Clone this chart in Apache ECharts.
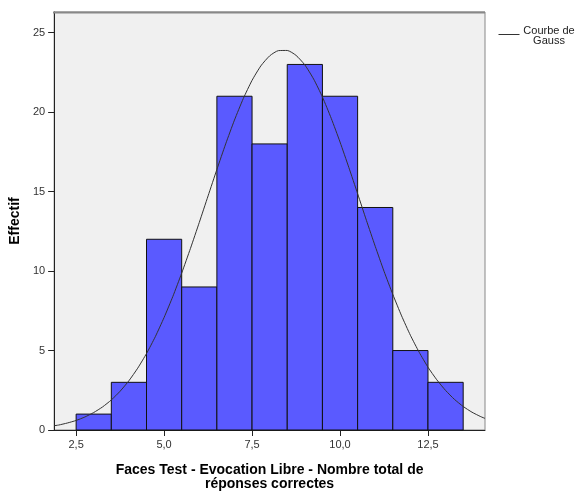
<!DOCTYPE html>
<html>
<head>
<meta charset="utf-8">
<script src="https://cdn.jsdelivr.net/npm/echarts@6/dist/echarts.min.js"></script>
<style>html,body{margin:0;padding:0;background:#fff;}#c{width:575px;height:496px;}</style>
</head>
<body>
<div id="c"></div>
<script>
// Histogram bins (lower edge, upper edge) and counts
var binLower = [2.5, 3.5, 4.5, 5.5, 6.5, 7.5, 8.5, 9.5, 10.5, 11.5, 12.5];
var binUpper = [3.5, 4.5, 5.5, 6.5, 7.5, 8.5, 9.5, 10.5, 11.5, 12.5, 13.5];
var counts   = [1, 3, 12, 9, 21, 18, 23, 21, 14, 5, 3];

// Gauss curve points
var curveX = [1.875, 2.0, 2.25, 2.5, 2.75, 3.0, 3.25, 3.5, 3.75, 4.0, 4.25, 4.5, 4.75, 5.0, 5.25, 5.5, 5.75, 6.0, 6.25, 6.5, 6.75, 7.0, 7.25, 7.5, 7.75, 8.0, 8.25, 8.5, 8.75, 9.0, 9.25, 9.5, 9.75, 10.0, 10.25, 10.5, 10.75, 11.0, 11.25, 11.5, 11.75, 12.0, 12.25, 12.5, 12.75, 13.0, 13.25, 13.5, 13.75, 14.0, 14.12];
var curveY = [0.27, 0.31, 0.44, 0.60, 0.82, 1.10, 1.45, 1.89, 2.44, 3.10, 3.89, 4.81, 5.87, 7.08, 8.41, 9.87, 11.43, 13.06, 14.73, 16.39, 18.00, 19.50, 20.85, 22.00, 22.91, 23.54, 23.87, 23.88, 23.57, 22.97, 22.08, 20.95, 19.61, 18.12, 16.52, 14.87, 13.19, 11.56, 9.99, 8.53, 7.18, 5.96, 4.89, 3.95, 3.16, 2.49, 1.93, 1.48, 1.12, 0.84, 0.73];

// Axis tick labels
var xTicks = [2.5, 5.0, 7.5, 10.0, 12.5];
var yTicks = [0, 5, 10, 15, 20, 25];

// Legend text
var legendLines = ['Courbe de', 'Gauss'];

var barData = binLower.map(function (l, i) { return [l, binUpper[i], counts[i]]; });
var curveData = curveX.map(function (x, i) { return [x, curveY[i]]; });

var chart = echarts.init(document.getElementById('c'), null, {renderer: 'canvas'});
var fontFam = '"Liberation Sans", Arial, sans-serif';

chart.setOption({
  animation: false,
  backgroundColor: '#ffffff',
  grid: {
    left: 53, top: 12, right: 90, bottom: 66,
    show: true, backgroundColor: '#f0f0f0', borderColor: '#888888', borderWidth: 1
  },
  graphic: [
    { type: 'line', left: 496, top: 32, shape: { x1: 0, y1: 0, x2: 21, y2: 0 }, style: { stroke: '#333', lineWidth: 1 } },
    { type: 'text', x: 549, y: 31, style: { text: legendLines[0], font: '11px ' + fontFam, fill: '#222', textAlign: 'center', textVerticalAlign: 'middle' } },
    { type: 'text', x: 549, y: 41, style: { text: legendLines[1], font: '11px ' + fontFam, fill: '#222', textAlign: 'center', textVerticalAlign: 'middle' } },
    { type: 'line', shape: { x1: 53, y1: 12.5, x2: 485, y2: 12.5 }, style: { stroke: '#888', lineWidth: 2 }, z: 10 }
  ],
  xAxis: {
    type: 'value',
    min: 1.875, max: 14.12,
    name: 'Faces Test - Evocation Libre - Nombre total de\nréponses correctes',
    nameLocation: 'middle',
    nameGap: 33,
    nameTextStyle: { fontFamily: fontFam, fontSize: 14, fontWeight: 'bold', color: '#000', lineHeight: 14, verticalAlign: 'top' },
    axisLine: { show: true, onZero: false, lineStyle: { color: '#222', width: 1 } },
    axisTick: { show: true, inside: false, length: 6, customValues: xTicks, lineStyle: { color: '#222' } },
    axisLabel: {
      customValues: xTicks, margin: 9,
      fontFamily: fontFam, fontSize: 11, color: '#333',
      formatter: function (v) { return v.toFixed(1).replace('.', ','); }
    },
    splitLine: { show: false }
  },
  yAxis: {
    type: 'value',
    min: 0, max: 26.3,
    name: 'Effectif',
    nameLocation: 'middle',
    nameGap: 32,
    nameTextStyle: { fontFamily: fontFam, fontSize: 14, fontWeight: 'bold', color: '#000' },
    axisLine: { show: true, lineStyle: { color: '#222', width: 1 } },
    axisTick: { show: true, inside: false, length: 6, customValues: yTicks, lineStyle: { color: '#222' } },
    axisLabel: { customValues: yTicks, margin: 9, fontFamily: fontFam, fontSize: 11, color: '#333' },
    splitLine: { show: false }
  },
  series: [
    {
      type: 'custom',
      name: 'Effectif',
      data: barData,
      encode: { x: [0, 1], y: 2 },
      renderItem: function (params, api) {
        var p0 = api.coord([api.value(0), api.value(2)]);
        var p1 = api.coord([api.value(1), 0]);
        return {
          type: 'rect',
          shape: { x: p0[0], y: p0[1], width: p1[0] - p0[0], height: p1[1] - p0[1] },
          style: { fill: '#5a5aff', stroke: '#111', lineWidth: 1 }
        };
      },
      z: 2
    },
    {
      type: 'line',
      name: 'Courbe de Gauss',
      data: curveData,
      smooth: 0.2,
      symbol: 'none',
      lineStyle: { color: '#333', width: 1 },
      itemStyle: { color: '#333' },
      z: 3
    }
  ]
});
</script>
</body>
</html>
